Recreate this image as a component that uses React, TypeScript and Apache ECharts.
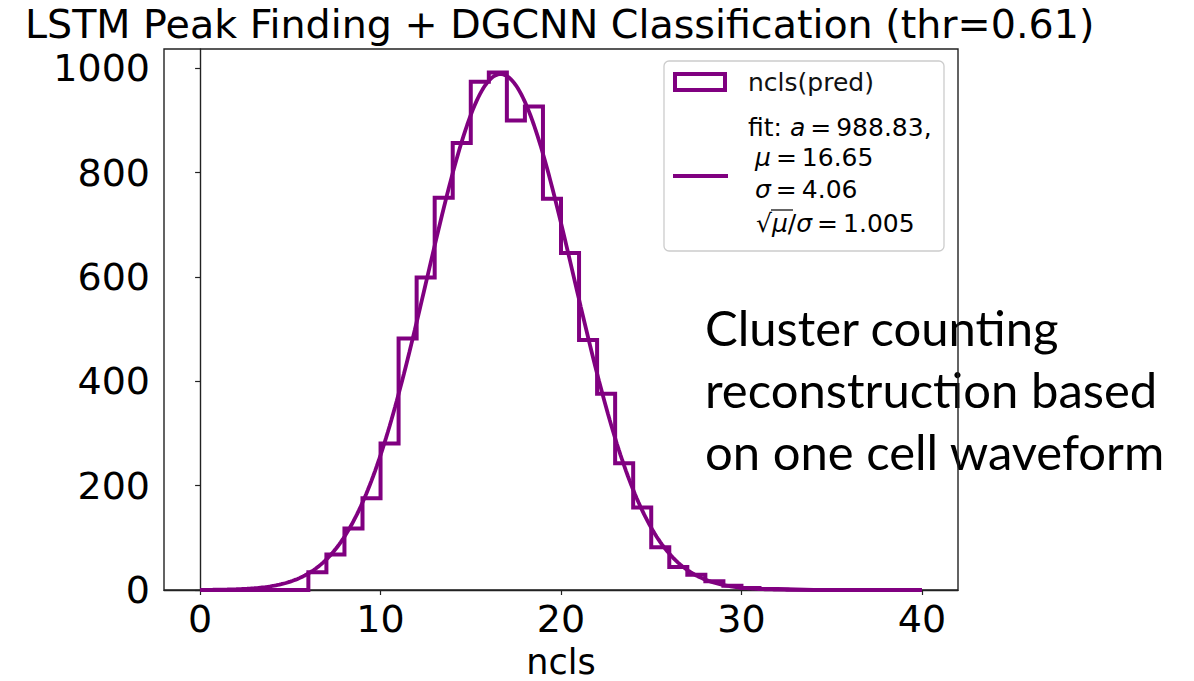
import React, { useEffect, useRef } from "react";
import * as echarts from "echarts";

// Histogram of reconstructed cluster counts: one bin per integer ncls value, edges 0..40
const binEdgesStart = 0;
const binWidth = 1;
const counts = [
  0, 0, 0, 0, 0, 0, 34, 68, 118, 176,
  281, 482, 599, 752, 857, 974, 992, 900, 927, 750,
  646, 479, 376, 243, 158, 82, 44, 29, 17, 8,
  4, 2, 1, 0, 0, 0, 0, 0, 0, 0,
];

// Gaussian fit parameters shown in the legend
const fitA = 988.83;
const fitMu = 16.65;
const fitSigma = 4.06;
const fitRatio = 1.005;
const fitRange = [0, 40];

const xTicks = [0, 10, 20, 30, 40];
const yTicks = [0, 200, 400, 600, 800, 1000];

const titleText = "LSTM Peak Finding + DGCNN Classification (thr=0.61)";
const xName = "ncls";
const histLabel = "ncls(pred)";
const noteLines = ["Cluster counting", "reconstruction based", "on one cell waveform"];

const PURPLE = "#800080";
const MPL_FONT = "DejaVu Sans";
const THIN = "\u2009";

function stepOutline(): number[][] {
  const pts: number[][] = [];
  for (let i = 0; i < counts.length; i++) {
    const x0 = binEdgesStart + i * binWidth;
    const x1 = x0 + binWidth;
    if (i === 0) pts.push([x0, 0]);
    pts.push([x0, counts[i]]);
    pts.push([x1, counts[i]]);
  }
  pts.push([binEdgesStart + counts.length * binWidth, 0]);
  return pts;
}

function fitCurve(): number[][] {
  const pts: number[][] = [];
  const n = 400;
  for (let k = 0; k <= n; k++) {
    const x = fitRange[0] + ((fitRange[1] - fitRange[0]) * k) / n;
    const y = fitA * Math.exp(-((x - fitMu) ** 2) / (2 * fitSigma ** 2));
    pts.push([x, y]);
  }
  return pts;
}

const legendFont = 25;
const richStyles = {
  n: { fontFamily: MPL_FONT, fontSize: legendFont, color: "#111" },
  i: { fontFamily: MPL_FONT, fontSize: legendFont, fontStyle: "italic", color: "#111" },
};
const eq = `${THIN}=${THIN}`;

export default function App() {
  const ref = useRef<HTMLDivElement>(null);

  useEffect(() => {
    document.body.style.margin = "0";
    const chart = echarts.init(ref.current!, null, { renderer: "svg" });

    const option: any = {
      animation: false,
      backgroundColor: "#ffffff",
      title: {
        text: titleText,
        left: 25,
        top: 4,
        padding: 0,
        textStyle: { fontFamily: MPL_FONT, fontSize: 39.6, fontWeight: "normal", color: "#000" },
      },
      grid: {
        left: 164,
        right: 236,
        top: 49,
        bottom: 91,
        outerBoundsMode: "none",
        containLabel: false,
        show: true,
        borderColor: "#222",
        borderWidth: 1.4,
        backgroundColor: "transparent",
      },
      xAxis: {
        type: "value",
        min: -2,
        max: 42,
        name: xName,
        nameLocation: "middle",
        nameGap: 54,
        nameTextStyle: { fontFamily: MPL_FONT, fontSize: 35, color: "#000" },
        splitLine: { show: false },
        axisLine: { show: true, lineStyle: { color: "#222", width: 1.4 } },
        axisTick: { show: true, length: 5, customValues: xTicks, lineStyle: { color: "#222", width: 1.2 } },
        axisLabel: {
          customValues: xTicks,
          margin: 10,
          fontFamily: MPL_FONT,
          fontSize: 38,
          color: "#000",
          formatter: (v: number) => String(v),
        },
      },
      yAxis: {
        type: "value",
        min: 0,
        max: 1037,
        splitLine: { show: false },
        axisLine: { show: true, lineStyle: { color: "#222", width: 1.4 } },
        axisTick: { show: true, length: 5, customValues: yTicks, lineStyle: { color: "#222", width: 1.2 } },
        axisLabel: {
          customValues: yTicks,
          margin: 14,
          fontFamily: MPL_FONT,
          fontSize: 38,
          color: "#000",
          formatter: (v: number) => String(v),
        },
      },
      series: [
        {
          name: histLabel,
          type: "line",
          data: stepOutline(),
          showSymbol: false,
          lineStyle: { color: PURPLE, width: 4, join: "miter" },
          z: 2,
        },
        {
          name: "fit",
          type: "line",
          data: fitCurve(),
          showSymbol: false,
          lineStyle: { color: PURPLE, width: 3.8 },
          z: 3,
        },
      ],
      graphic: [
        // annotation sits beneath the axes frame
        ...noteLines.map((t, i) => ({
          type: "text",
          x: 705,
          y: 327 + i * 62,
          z: -1,
          style: {
            text: t,
            fontFamily: "Lato",
            fontSize: 49,
            fill: "#000",
            verticalAlign: "middle",
            textAlign: "left",
          },
        })),
        // legend frame
        {
          type: "rect",
          z: 20,
          shape: { x: 664, y: 61, width: 280, height: 190, r: 5 },
          style: { fill: "rgba(255,255,255,0.85)", stroke: "#cccccc", lineWidth: 1.3 },
        },
        {
          type: "rect",
          z: 21,
          shape: { x: 675, y: 74, width: 50, height: 16 },
          style: { fill: "none", stroke: PURPLE, lineWidth: 4 },
        },
        {
          type: "line",
          z: 21,
          shape: { x1: 673, y1: 176, x2: 728, y2: 176 },
          style: { stroke: PURPLE, lineWidth: 4 },
        },
        {
          type: "text",
          z: 21,
          x: 748,
          y: 82,
          style: { text: histLabel, fontFamily: MPL_FONT, fontSize: legendFont, fill: "#111", verticalAlign: "middle" },
        },
        {
          type: "text",
          z: 21,
          x: 748,
          y: 127,
          style: {
            text: `{n|fit: }{i|a}{n|${eq}${fitA.toFixed(2)},}`,
            rich: richStyles,
            verticalAlign: "middle",
          },
        },
        {
          type: "text",
          z: 21,
          x: 755,
          y: 157,
          style: {
            text: `{i|μ}{n|${eq}${fitMu.toFixed(2)}}`,
            rich: richStyles,
            verticalAlign: "middle",
          },
        },
        {
          type: "text",
          z: 21,
          x: 755,
          y: 189,
          style: {
            text: `{i|σ}{n|${eq}${fitSigma.toFixed(2)}}`,
            rich: richStyles,
            verticalAlign: "middle",
          },
        },
        {
          type: "text",
          z: 21,
          x: 756,
          y: 223,
          style: {
            text: `{n|√}{i|μ}{n|/}{i|σ}{n|${eq}${fitRatio.toFixed(3)}}`,
            rich: richStyles,
            verticalAlign: "middle",
          },
        },
        {
          type: "line",
          z: 21,
          shape: { x1: 771, y1: 210, x2: 793, y2: 210 },
          style: { stroke: "#111", lineWidth: 1.3 },
        },
      ],
    };

    chart.setOption(option);
    return () => chart.dispose();
  }, []);

  return <div ref={ref} style={{ position: "fixed", left: 0, top: 0, width: 1194, height: 681 }} />;
}
